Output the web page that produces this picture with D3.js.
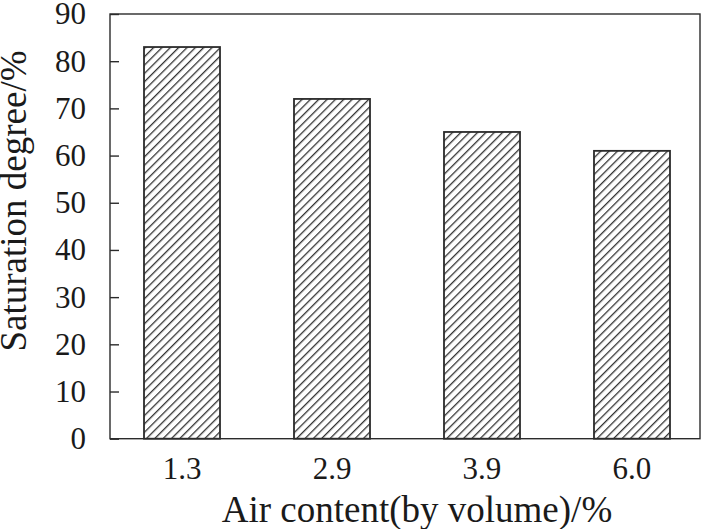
<!DOCTYPE html>
<html>
<head>
<meta charset="utf-8">
<script src="https://cdn.jsdelivr.net/npm/d3@7"></script>
<style>
  html, body { margin: 0; padding: 0; background: #fff; }
  svg { display: block; }
</style>
</head>
<body>
<div id="chart"></div>
<script>
const categories = ['1.3', '2.9', '3.9', '6.0'];
const saturation = [83, 72, 65, 61];
const yTicks = [0, 10, 20, 30, 40, 50, 60, 70, 80, 90];

const W = 702, H = 529;
const plot = { left: 110, right: 700, top: 14, bottom: 438.7 };
const FONT = "'Liberation Serif'";
const INK = '#2b2b2b';

const svg = d3.select('#chart').append('svg')
  .attr('width', W).attr('height', H)
  .style('font-family', FONT);

// hatch pattern for bars
const defs = svg.append('defs');
const pat = defs.append('pattern')
  .attr('id', 'hatch')
  .attr('patternUnits', 'userSpaceOnUse')
  .attr('width', 5.9).attr('height', 5.9)
  .attr('patternTransform', 'rotate(45)');
pat.append('rect').attr('width', 5.9).attr('height', 5.9).attr('fill', '#fff');
pat.append('line')
  .attr('x1', 0).attr('y1', -1).attr('x2', 0).attr('y2', 7)
  .attr('stroke', '#333').attr('stroke-width', 2.6);

const x = d3.scaleBand()
  .domain(categories)
  .range([107, 707])
  .paddingInner(0.4933)
  .paddingOuter(0.2467);

const y = d3.scaleLinear().domain([0, 90]).range([plot.bottom, plot.top]);

// bars
svg.append('g').selectAll('rect').data(categories).join('rect')
  .attr('x', d => x(d))
  .attr('width', x.bandwidth())
  .attr('y', (d, i) => y(saturation[i]))
  .attr('height', (d, i) => y(0) - y(saturation[i]))
  .attr('fill', 'url(#hatch)')
  .attr('stroke', INK).attr('stroke-width', 1.8);

// frame
svg.append('rect')
  .attr('x', plot.left).attr('y', plot.top)
  .attr('width', plot.right - plot.left).attr('height', plot.bottom - plot.top)
  .attr('fill', 'none').attr('stroke', INK).attr('stroke-width', 1.4);

// y axis with inward ticks
svg.append('g')
  .attr('transform', `translate(${plot.left},0)`)
  .call(d3.axisLeft(y).tickValues(yTicks).tickSizeInner(-9).tickSizeOuter(0).tickPadding(24).tickFormat(d3.format('d')))
  .call(g => g.attr('font-family', null))
  .call(g => g.select('.domain').remove())
  .call(g => g.selectAll('.tick line').attr('stroke', INK).attr('stroke-width', 1.4))
  .call(g => g.selectAll('.tick text').attr('fill', '#1a1a1a')
    .style('font-family', FONT).style('font-size', '31px'));

// x axis labels (no ticks)
svg.append('g')
  .attr('transform', `translate(0,${plot.bottom})`)
  .call(d3.axisBottom(x).tickSize(0).tickPadding(18))
  .call(g => g.attr('font-family', null))
  .call(g => g.select('.domain').remove())
  .call(g => g.selectAll('.tick text').attr('fill', '#1a1a1a')
    .style('font-family', FONT).style('font-size', '31px'));

// axis titles
svg.append('text')
  .attr('x', 417).attr('y', 522)
  .attr('text-anchor', 'middle')
  .attr('fill', '#1a1a1a').style('font-family', FONT).style('font-size', '37px')
  .text('Air content(by volume)/%');

svg.append('text')
  .attr('transform', 'translate(26,201) rotate(-90)')
  .attr('text-anchor', 'middle')
  .attr('fill', '#1a1a1a').style('font-family', FONT).style('font-size', '37px')
  .text('Saturation degree/%');
</script>
</body>
</html>
